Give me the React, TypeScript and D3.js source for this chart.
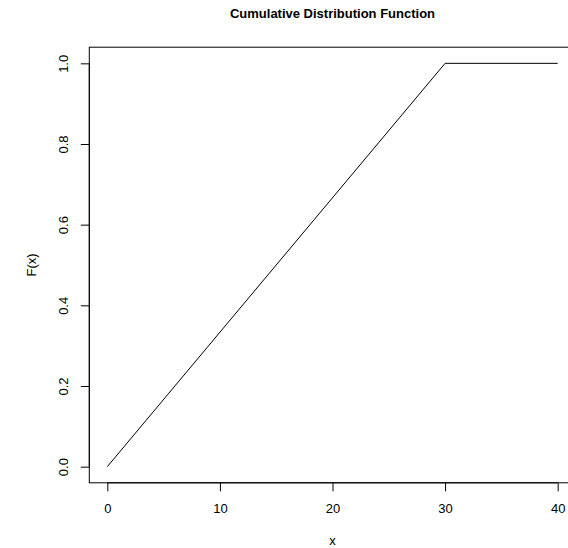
import React, { useEffect, useRef } from 'react';
import * as d3 from 'd3';

// CDF of Uniform(0, 30), sampled at the points where the line bends
const xs = [0, 30, 40];
const fx = [0, 1, 1];
const xTicks = [0, 10, 20, 30, 40];
const yTicks = [0, 0.2, 0.4, 0.6, 0.8, 1.0];

const width = 568;
const height = 548;
const font = '"Liberation Sans", Arial, Helvetica, sans-serif';

export default function App() {
    const ref = useRef<SVGSVGElement>(null);

    useEffect(() => {
        const svg = d3.select(ref.current);
        svg.selectAll('*').remove();

        // R pads the data range by 4% on each side
        const xScale = d3.scaleLinear().domain([-1.6, 41.6]).range([89.3, 575.7]);
        const yScale = d3.scaleLinear().domain([-0.04, 1.04]).range([482.8, 47.2]);

        const g = svg.append('g');

        g.append('rect')
            .attr('x', xScale(-1.6))
            .attr('y', yScale(1.04))
            .attr('width', xScale(41.6) - xScale(-1.6))
            .attr('height', yScale(-0.04) - yScale(1.04))
            .attr('fill', 'none')
            .attr('stroke', '#000')
            .attr('stroke-width', 1);

        const line = d3
            .line<number>()
            .x((_, i) => xScale(xs[i]))
            .y((d) => yScale(d));
        g.append('path')
            .datum(fx)
            .attr('d', line)
            .attr('fill', 'none')
            .attr('stroke', '#000')
            .attr('stroke-width', 1);

        const xAxis = g
            .append('g')
            .attr('transform', `translate(0, ${yScale(-0.04)})`)
            .call(d3.axisBottom(xScale).tickValues(xTicks).tickSize(8.5).tickPadding(12.5).tickFormat(d3.format('d')));
        xAxis.select('.domain').attr('d', `M${xScale(0)},0H${xScale(40)}`);
        xAxis.selectAll('text').attr('font-size', 13).attr('font-family', font).attr('fill', '#000');

        const yAxis = g
            .append('g')
            .attr('transform', `translate(${xScale(-1.6)}, 0)`)
            .call(d3.axisLeft(yScale).tickValues(yTicks).tickSize(8.5).tickFormat(d3.format('.1f')));
        yAxis.select('.domain').attr('d', `M0,${yScale(0)}V${yScale(1)}`);
        yAxis
            .selectAll('.tick text')
            .attr('font-size', 13)
            .attr('font-family', font)
            .attr('fill', '#000')
            .attr('x', null)
            .attr('dy', null)
            .attr('text-anchor', 'middle')
            .attr('transform', 'translate(-21, 0) rotate(-90)');

        svg.append('text')
            .attr('x', 332.5)
            .attr('y', 17.5)
            .attr('text-anchor', 'middle')
            .attr('font-family', font)
            .attr('font-weight', 'bold')
            .attr('font-size', 13)
            .text('Cumulative Distribution Function');

        svg.append('text')
            .attr('x', 332.5)
            .attr('y', 545)
            .attr('text-anchor', 'middle')
            .attr('font-family', font)
            .attr('font-size', 13)
            .text('x');

        svg.append('text')
            .attr('transform', `translate(35.5, 265) rotate(-90)`)
            .attr('text-anchor', 'middle')
            .attr('font-family', font)
            .attr('font-size', 13)
            .text('F(x)');
    }, []);

    return (
        <svg ref={ref} width={width} height={height} style={{ position: 'absolute', left: 0, top: 0, background: '#fff' }} />
    );
}
